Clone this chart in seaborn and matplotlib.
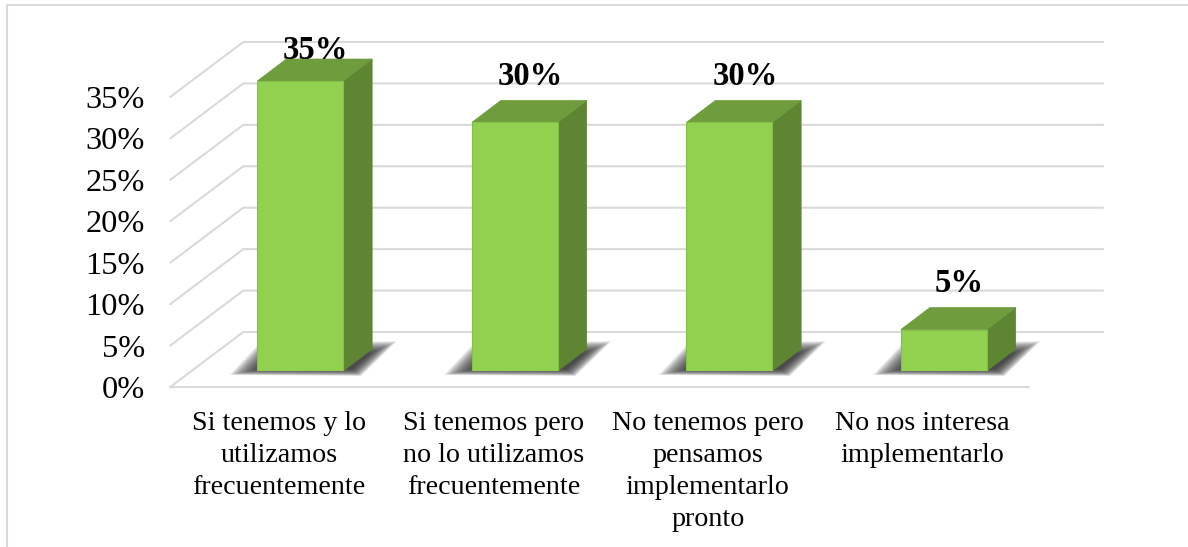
import matplotlib
matplotlib.use("Agg")
import matplotlib.pyplot as plt
from matplotlib.patches import Polygon
from matplotlib.lines import Line2D
from matplotlib.transforms import ScaledTranslation
import seaborn as sns

categories = ["Si tenemos y lo\nutilizamos\nfrecuentemente",
              "Si tenemos pero\nno lo utilizamos\nfrecuentemente",
              "No tenemos pero\npensamos\nimplementarlo\npronto",
              "No nos interesa\nimplementarlo"]
values = [35, 30, 30, 5]
y_ticks = [0, 5, 10, 15, 20, 25, 30, 35]
y_tick_labels = ["0%", "5%", "10%", "15%", "20%", "25%", "30%", "35%"]

W, H, DPI = 1188, 547, 100
FRONT, TOP, SIDE = "#92D050", "#6F9C3D", "#5E8532"
GRID = "#D9D9D9"

sns.set_theme(style="white")
plt.rcParams["font.family"] = ["Liberation Serif", "DejaVu Serif"]

fig = plt.figure(figsize=(W / DPI, H / DPI), dpi=DPI, facecolor="white")
ax = fig.add_axes([193 / W, 1 - 371 / H, (1051 - 193) / W, (371 - 81) / H])
sns.barplot(x=categories, y=values, color=FRONT, saturation=1, width=0.4,
            edgecolor="#86BE4A", linewidth=0.8, ax=ax, zorder=5)
ax.set_xlim(-0.5, 3.5)
ax.set_ylim(0, 35)
for s in ax.spines.values():
    s.set_visible(False)
ax.set_facecolor("none")

ux = 214.5           # pixels per category
uy = 290 / 35        # pixels per percent
fx = lambda px: (px - 300) / ux
dy = lambda px: px / uy   # pixels upward to percent units

# walls and floor gridlines
front_d, back_d = dy(-16), dy(39)
for v in y_ticks:
    xs = [fx(170), fx(243), fx(1103)]
    ys = [v + front_d, v + back_d, v + back_d]
    ax.add_line(Line2D(xs, ys, color=GRID, lw=1.5, clip_on=False, zorder=1))
ax.add_line(Line2D([fx(170), fx(1029)], [front_d, front_d],
                   color=GRID, lw=1.5, clip_on=False, zorder=1))

# 3D faces and shadow, built from the bars themselves
ddx, ddy = 29 / ux, dy(22)
for bar, v in zip(ax.patches, values):
    x0, x1 = bar.get_x(), bar.get_x() + bar.get_width()
    outer = [(x0 - 28 / ux, dy(-4)), (x0 + 2 / ux, dy(28)), (x1 + 54 / ux, dy(30)),
             (x1 + 18 / ux, dy(-5))]
    inner = [(x0 + 2 / ux, dy(2)), (x0 + 10 / ux, dy(10)), (x1 + 26 / ux, dy(17)),
             (x1 + 8 / ux, dy(2))]
    n = 30
    for i in range(n):
        t = i / (n - 1)
        layer = [(a[0] + (b[0] - a[0]) * t, a[1] + (b[1] - a[1]) * t)
                 for a, b in zip(outer, inner)]
        ax.add_patch(Polygon(layer, closed=True, fc="#303030", ec="none",
                             alpha=0.06, clip_on=False, zorder=2))
    ax.add_patch(Polygon([(x1, 0), (x1 + ddx, ddy), (x1 + ddx, v + ddy), (x1, v)],
                         closed=True, fc=SIDE, ec=SIDE, lw=0.5, clip_on=False, zorder=4))
    ax.add_patch(Polygon([(x0, v), (x0 + ddx, v + ddy), (x1 + ddx, v + ddy), (x1, v)],
                         closed=True, fc=TOP, ec=TOP, lw=0.5, clip_on=False, zorder=4))
    lab_y = min(v + dy(46), 35 + dy(31))
    ax.text(bar.get_x() + bar.get_width() / 2 + 15.5 / ux, lab_y, f"{v}%",
            ha="center", va="center", fontsize=23.5, fontweight="bold",
            color="black", zorder=6, clip_on=False)

# ticks
ax.set_yticks(y_ticks, y_tick_labels)
ax.tick_params(axis="y", length=0, pad=48 * 72 / DPI, labelsize=23.3, labelcolor="black")
shift_y = ScaledTranslation(0, -16 / DPI, fig.dpi_scale_trans)
for lab in ax.get_yticklabels():
    lab.set_transform(lab.get_transform() + shift_y)
ax.tick_params(axis="x", length=0, pad=40 * 72 / DPI, labelsize=20.2, labelcolor="black")
shift_x = ScaledTranslation(-21.5 / DPI, 0, fig.dpi_scale_trans)
for lab in ax.get_xticklabels():
    lab.set_transform(lab.get_transform() + shift_x)
    lab.set_linespacing(1.37)
ax.set_xlabel("")
ax.set_ylabel("")

# outer frame
fig.add_artist(Line2D([7 / W, 7 / W, 1], [0, 1 - 5 / H, 1 - 5 / H],
                      color=GRID, lw=1.5, transform=fig.transFigure))

fig.savefig("out.png", dpi=DPI, facecolor="white")
